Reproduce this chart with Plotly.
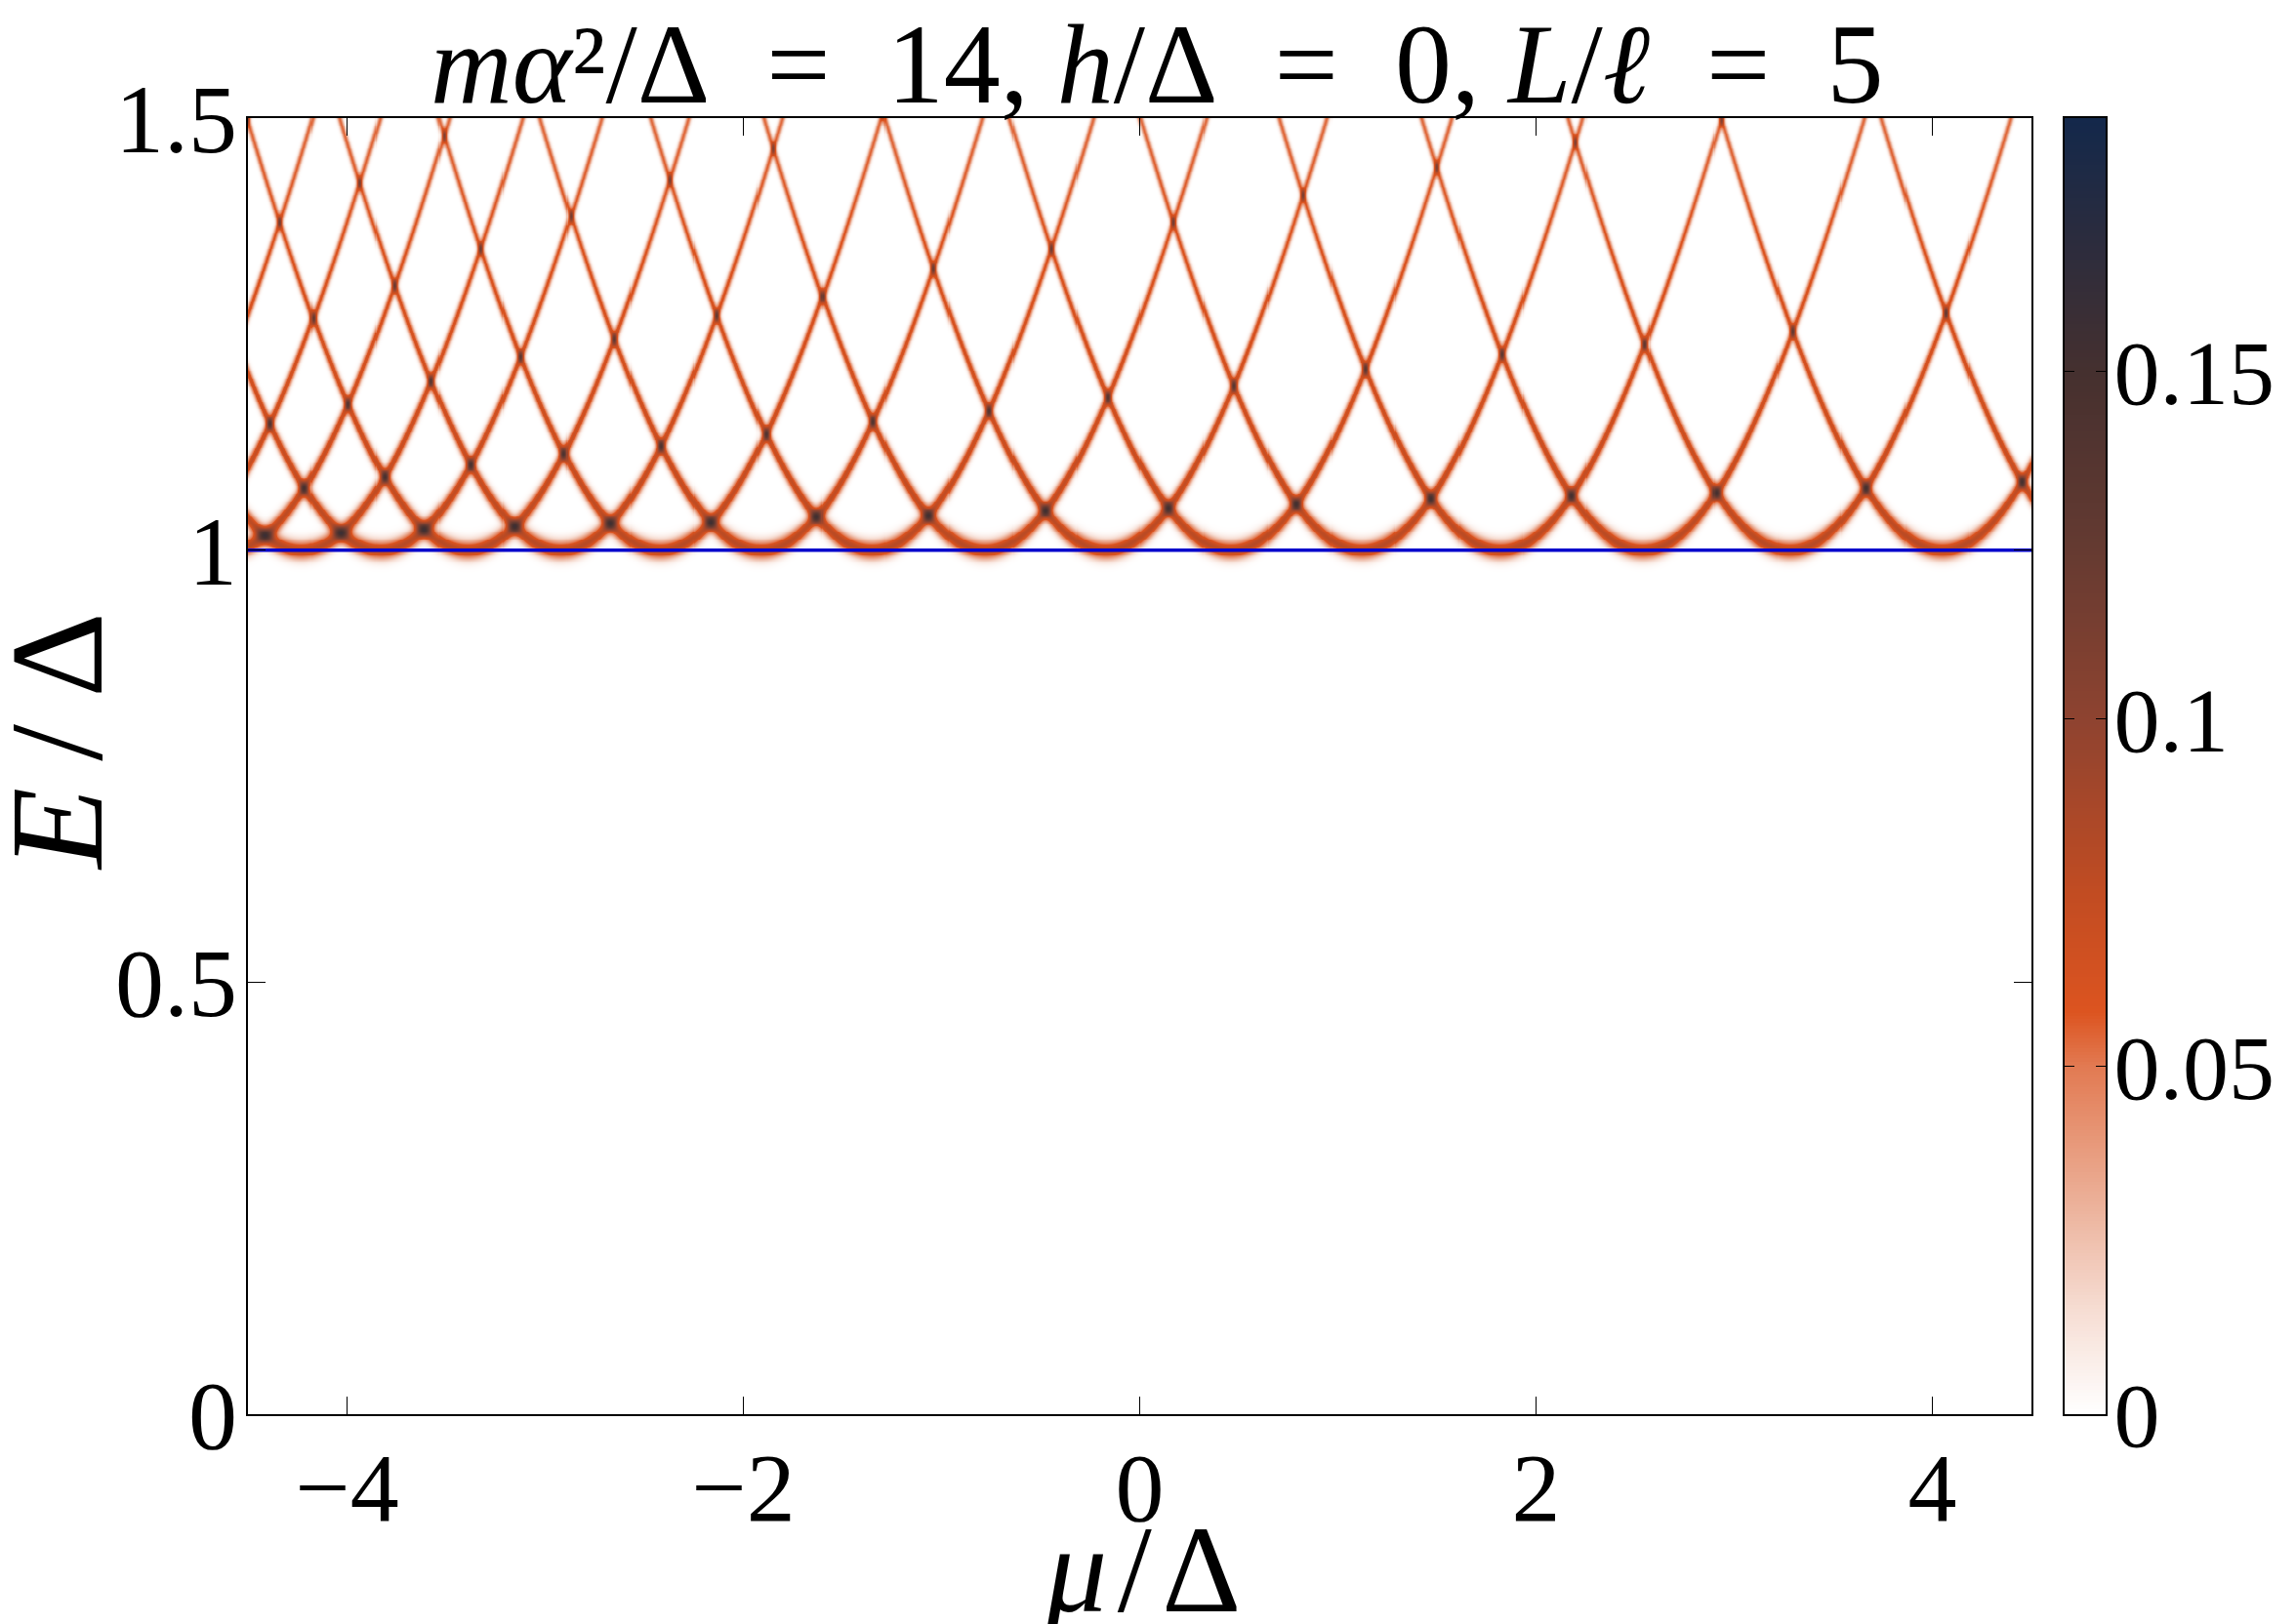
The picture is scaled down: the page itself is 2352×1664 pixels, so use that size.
import numpy as np
import plotly.graph_objects as go

# band bottoms (mu/Delta), incl. those just outside the window
band_minima_mu = [-5.62, -5.29, -4.95, -4.60, -4.23, -3.83, -3.39, -2.92, -2.42,
                  -1.91, -1.35, -0.78, -0.17, 0.46, 1.12, 1.82, 2.54, 3.28, 4.05, 4.86]
gap_level = 1.0          # E/Delta of the gap edge (blue line)
peak_height = 0.08       # peak intensity of one band at the gap edge
broadening = 0.0075      # energy broadening of a band

mu_range = [-4.5, 4.5]
E_range = [0, 1.5]
z_max = 0.1865
cbar_tickvals = [0, 0.05, 0.1, 0.15]
cbar_ticktext = ['0', '0.05', '0.1', '0.15']
y_tickvals = [0, 0.5, 1, 1.5]
y_ticktext = ['0', '0.5', '1', '1.5']
x_tickvals = [-4, -2, 0, 2, 4]

# grid for the spectral map
mu = np.linspace(mu_range[0], mu_range[1], 1800)
E = np.linspace(0.96, 1.5, 540)

z = np.zeros((len(E), len(mu)))
for mu_n in band_minima_mu:
    E_n = np.sqrt(gap_level**2 + (mu - mu_n)**2)
    z += (peak_height / E_n)[None, :] * np.exp(-0.5 * ((E[:, None] - E_n[None, :]) / broadening)**2)
z = z.astype(np.float32)

colorscale = [
    [0.0, '#ffffff'],
    [0.08, '#f6ddd3'],
    [0.16, '#ecb29b'],
    [0.268, '#e27a52'],
    [0.31, '#dc5420'],
    [0.40, '#c24c22'],
    [0.536, '#8e4330'],
    [0.67, '#643a31'],
    [0.804, '#45302f'],
    [1.0, '#13284b'],
]

font = 'Liberation Serif'
# the page body adds 8px, so the figure is 8px smaller than the window
W, H = 2344, 1656
L, R, T, B = 246, 195, 113, 215
pw, ph = W - L - R, H - T - B
plot_right = 2073
cbar_left = 2107

fig = go.Figure()

fig.add_trace(go.Heatmap(
    x=mu, y=E, z=z, colorscale=colorscale, zmin=0, zmax=z_max,
    showscale=False, hoverinfo='skip',
))

# gap edge
fig.add_trace(go.Scatter(
    x=mu_range, y=[gap_level, gap_level], mode='lines',
    line=dict(color='#0000cc', width=3.5), showlegend=False, hoverinfo='skip',
))

# colour bar drawn as its own heatmap
cb_vals = np.linspace(0, z_max, 400)
fig.add_trace(go.Heatmap(
    x=[0, 1], y=cb_vals, z=np.repeat(cb_vals[:, None], 2, axis=1),
    colorscale=colorscale, zmin=0, zmax=z_max, showscale=False,
    xaxis='x2', yaxis='y2', hoverinfo='skip',
))

sp = '\u2002'
fig.add_annotation(
    text=f'<i>mα</i>²/Δ{sp}={sp}14, <i>h</i>/Δ{sp}={sp}0, <i>L</i>/<i>ℓ</i>{sp}={sp}5',
    xref='paper', yref='paper', x=(1177 - L) / pw, y=1 + (T - 58) / ph,
    xanchor='center', yanchor='middle', showarrow=False,
    font=dict(family=font, size=116, color='black'),
)
fig.add_annotation(
    text='<i>μ</i>\u200a/\u200aΔ', xref='paper', yref='paper',
    x=(1162 - L) / pw, y=-(1600 - (H - B)) / ph,
    xanchor='center', yanchor='middle', showarrow=False,
    font=dict(family=font, size=126, color='black'),
)
fig.add_annotation(
    text='<i>E</i>\u2009/\u2009Δ', xref='paper', yref='paper', textangle=-90,
    x=-(L - 50) / pw, y=(H - B - 752) / ph,
    xanchor='center', yanchor='middle', showarrow=False,
    font=dict(family=font, size=136, color='black'),
)

axis_common = dict(
    ticks='inside', ticklen=18, tickcolor='black', tickwidth=1,
    showline=True, linecolor='black', linewidth=2, mirror='ticks',
    showgrid=False, zeroline=False, automargin=False,
    tickfont=dict(family=font, size=100, color='black'),
)

fig.update_layout(
    width=W, height=H,
    margin=dict(l=L, r=R, t=T, b=B),
    paper_bgcolor='white', plot_bgcolor='white',
    showlegend=False,
    xaxis=dict(range=mu_range, tickvals=x_tickvals, domain=[0, (plot_right - L) / pw],
               ticklabelstandoff=-13, **axis_common),
    yaxis=dict(range=E_range, tickvals=y_tickvals, ticktext=y_ticktext,
               ticklabelstandoff=-11, **axis_common),
    xaxis2=dict(domain=[(cbar_left - L) / pw, 1], anchor='y2', range=[-0.5, 1.5],
                showticklabels=False, ticks='', showgrid=False, zeroline=False,
                showline=True, linecolor='black', linewidth=1.5, mirror=True,
                automargin=False),
    yaxis2=dict(anchor='x2', side='right', range=[0, z_max],
                tickvals=cbar_tickvals, ticktext=cbar_ticktext,
                ticks='inside', ticklen=10, tickcolor='black', tickwidth=1,
                showline=True, linecolor='black', linewidth=1.5, mirror='ticks',
                showgrid=False, zeroline=False, automargin=False,
                ticklabelstandoff=-12,
                tickfont=dict(family=font, size=94, color='black')),
)

fig.write_html("out.html")
